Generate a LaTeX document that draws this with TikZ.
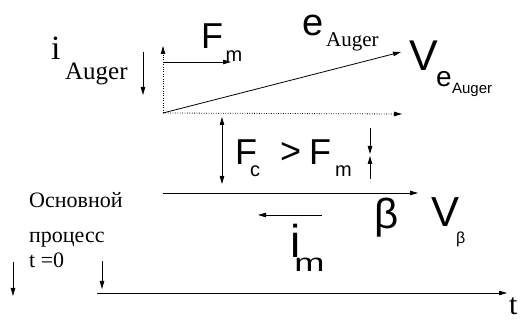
\documentclass[tikz,border=0pt]{standalone}
\usepackage{fontspec}
\setmainfont{Liberation Serif}
\newfontfamily\arialfont{Liberation Sans}
\usetikzlibrary{arrows.meta}

\newcommand{\fs}[1]{\fontsize{#1}{#1}\selectfont}
% lowered index: drop, size, text
\newcommand{\idx}[3]{\lower#1\hbox{\fs{#2}#3}}

\begin{document}
\begin{tikzpicture}[x=1pt,y=-1pt,
    vec/.style={line width=.8pt,-{Triangle[length=8pt,width=4.5pt]}},
    dvec/.style={line width=.8pt,{Triangle[length=8pt,width=4.5pt]}-{Triangle[length=8pt,width=4.5pt]}},
    dots/.style={dash pattern=on .8pt off 1.6pt},
    lbl/.style={anchor=base west,inner sep=0pt}]
  \useasboundingbox (0,0) rectangle (523,320);

  % points
  \coordinate (O) at (163,113);
  \coordinate (Otop) at (163,46);
  \coordinate (Fa) at (163,62);
  \coordinate (Fb) at (231,62);
  \coordinate (eA) at (401,52);
  \coordinate (Oright) at (402,114);
  \coordinate (Ca) at (222,117);
  \coordinate (Cb) at (222,184);
  \coordinate (Ma) at (370,128);
  \coordinate (Mb) at (370,154);
  \coordinate (Na) at (370,179);
  \coordinate (Nb) at (370,156);
  \coordinate (Ba) at (163,193);
  \coordinate (Bb) at (418,193);
  \coordinate (Ia) at (322,215);
  \coordinate (Ib) at (258,215);
  \coordinate (Ta) at (97,293);
  \coordinate (Tb) at (507,293);

  % Auger electron
  \node[lbl] (iAug) at (51,60) {\fs{34}i\kern4.5pt\idx{20pt}{25}{Auger}};
  \coordinate (Da) at (143,52);
  \coordinate (Db) at (143,95);
  \draw[vec] (Da) -- (Db);

  \draw[vec,dots] (O) -- (Otop);
  \draw[vec] (Fa) -- (Fb);
  \node[lbl] (Fm) at (201,49) {\arialfont\fs{36}F\kern2.5pt\idx{13pt}{20}{m}};

  \draw[vec] (O) -- (eA);
  \node[lbl] (eAug) at (302,36) {\arialfont\fs{38}e\kern2.9pt\idx{11pt}{21}{\rmfamily Auger}};
  \node[lbl] (Ve) at (409,71)
    {\arialfont\fs{43}V\kern-1.7pt\idx{16pt}{28}{e\kern.4pt\idx{7pt}{15}{Auger}}};

  \draw[vec,dots] (O) -- (Oright);

  % condition
  \draw[dvec] (Ca) -- (Cb);
  \node[lbl] (Fc) at (235,165)
    {\arialfont\fs{36}F\kern-7pt\idx{12pt}{20}{c}\kern20pt\raise1pt\hbox{>}\kern8pt F\kern4pt\idx{12pt}{20}{m}};
  \draw[vec] (Ma) -- (Mb);
  \draw[vec] (Na) -- (Nb);

  % beta
  \draw[vec] (Ba) -- (Bb);
  \draw[vec] (Ia) -- (Ib);
  \node[lbl] (im) at (290,258)
    {\arialfont\fs{46}i\kern-6pt\idx{14pt}{25}{\scalebox{1.45}[1]{m}}};
  \node[lbl] (beta) at (374,229) {\arialfont\fs{42}β};
  \node[lbl] (Vb) at (431,227) {\arialfont\fs{42}V\kern-3pt\idx{17pt}{16}{β}};

  % main process
  \node[lbl] (osn) at (29,208) {\fs{22}Основной};
  \node[lbl] (proc) at (29,243) {\fs{22}процесс};
  \node[lbl] (t0) at (29,268) {\fs{22}t =0};
  \coordinate (La) at (13,262);
  \coordinate (Lb) at (13,296);
  \draw[vec] (La) -- (Lb);
  \coordinate (Ka) at (102,261);
  \coordinate (Kb) at (102,289);
  \draw[vec] (Ka) -- (Kb);
  \draw[vec] (Ta) -- (Tb);
  \node[lbl] (t) at (509,315) {\fs{30}t};
\end{tikzpicture}
\end{document}
